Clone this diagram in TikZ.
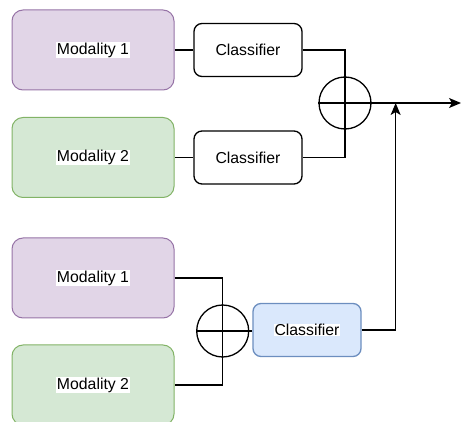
\documentclass[tikz,border=0pt]{standalone}
\usepackage{fontspec}
\setmainfont{Liberation Sans}
\usepackage{xcolor}
\usepackage{tikz}
\usetikzlibrary{arrows.meta,positioning,calc}
\definecolor{purpfill}{HTML}{E1D5E7}
\definecolor{purpline}{HTML}{9673A6}
\definecolor{grnfill}{HTML}{D5E8D4}
\definecolor{grnline}{HTML}{82B366}
\definecolor{bluefill}{HTML}{DAE8FC}
\definecolor{blueline}{HTML}{6C8EBF}
\newcommand{\wlbl}[1]{{\setlength{\fboxsep}{0.5pt}\colorbox{white}{#1}}}
\tikzset{
  blk/.style   ={draw,rounded corners=11pt,line width=1pt,inner sep=0pt,
                 font=\fontsize{15.8}{18}\selectfont,minimum width=162pt,minimum height=80pt},
  modA/.style  ={blk,fill=purpfill,draw=purpline},
  modB/.style  ={blk,fill=grnfill,draw=grnline},
  clsf/.style  ={blk,rounded corners=8pt,line width=1.3pt,minimum width=108pt,minimum height=53pt,fill=white},
  fuse/.style  ={draw,circle,line width=1.3pt,minimum size=52pt,inner sep=0pt},
  wire/.style  ={line width=1.3pt},
  flow/.style  ={wire,-{Stealth[length=12pt,width=10pt,inset=3pt]}},
}

\begin{document}
\begin{tikzpicture}[x=1pt,y=-1pt]
  \useasboundingbox (0,0) rectangle (461,422);
  % late fusion (top)
  \node[modA] (modi1) at (93,50)    {\wlbl{Modality 1}};
  \node[modB] (modi2) at (93,157.5) {\wlbl{Modality 2}};
  \node[clsf] (clsA)  at (248,50)   {Classifier};
  \node[clsf] (clsB)  at (248,157.5){Classifier};
  \node[fuse] (sumA)  at (345,103)  {};
  \coordinate (out) at (461,103);
  \draw[wire] (modi1) -- (clsA);
  \draw[wire] (modi2) -- (clsB);
  \draw[wire] (clsA.east) -| (sumA.center) |- (clsB.east);
  \draw[flow] (sumA.west) -- (out);
  % early fusion (bottom)
  \node[modA] (modi3) at (93,278)   {\wlbl{Modality 1}};
  \node[modB] (modi4) at (93,385)   {\wlbl{Modality 2}};
  \node[fuse] (sumB)  at (222.7,331){};
  \node[clsf,fill=bluefill,draw=blueline] (clsC) at (307,330) {\wlbl{Classifier}};
  \draw[wire] (modi3.east) -| (sumB.center) |- (modi4.east);
  \draw[wire] (sumB.west) -- (sumB.west -| clsC.west);
  \draw[flow] (clsC.east) -- ++(34,0) coordinate (bend) -- (bend |- out);
\end{tikzpicture}
\end{document}
